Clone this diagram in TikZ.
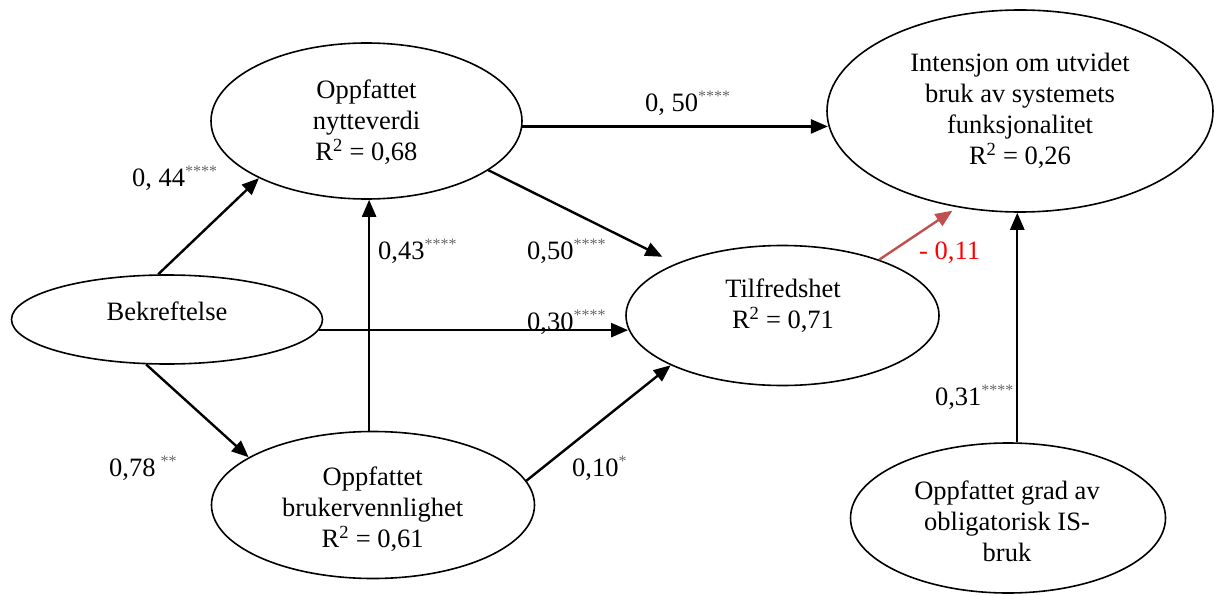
\documentclass[tikz,border=0pt]{standalone}
\usepackage{fontspec}
\setmainfont{Liberation Serif}
\usetikzlibrary{shapes.geometric,arrows.meta}
\definecolor{starc}{HTML}{666666}
\definecolor{redarr}{HTML}{C0504D}
\definecolor{redtxt}{HTML}{FF0000}
\newcommand\stars[1]{\raisebox{10pt}{\fontsize{16}{16}\selectfont\color{starc}#1}}
\newcommand\rsq{R\textsuperscript{2}}
\begin{document}
\begin{tikzpicture}[x=1pt,y=-1pt,
  ell/.style={draw, ellipse, line width=1.6pt, inner sep=0pt},
  txt/.style={align=center, font=\fontsize{26.5}{31}\selectfont, inner sep=0pt},
  lbl/.style={anchor=base west, font=\fontsize{26.5}{31}\selectfont, inner sep=0pt},
  arr/.style={line width=2.4pt, -{Triangle[length=17pt,width=14pt]}},
]
\useasboundingbox (0,0) rectangle (1214,596);

% ellipses
\node[ell, minimum width=311pt, minimum height=89pt]  (bek)  at (167,319.5) {};
\node[ell, minimum width=311pt, minimum height=156pt] (nv)   at (366.5,121) {};
\node[ell, minimum width=323pt, minimum height=147pt] (bru)  at (373,505) {};
\node[ell, minimum width=313pt, minimum height=140pt] (tilf) at (782.5,315.5) {};
\node[ell, minimum width=386pt, minimum height=202pt] (int)  at (1020,111) {};
\node[ell, minimum width=315pt, minimum height=150pt] (grad) at (1008,518) {};

% texts
\node[txt] (tbek)  at (167,311) {Bekreftelse};
\node[txt] (tnv)   at (366.5,122) {Oppfattet\\nytteverdi\\\rsq{} = 0,68};
\node[txt] (tbru)  at (372.7,509.5) {Oppfattet\\brukervennlighet\\\rsq{} = 0,61};
\node[txt] (ttilf) at (783,306) {Tilfredshet\\\rsq{} = 0,71};
\node[txt] (tint)  at (1020,110.5) {Intensjon om utvidet\\bruk av systemets\\funksjonalitet\\\rsq{} = 0,26};
\node[txt] (tgrad) at (1007,521.5) {Oppfattet grad av\\obligatorisk IS-\\bruk};

% connectors
\draw[arr] (bek.101) -- (nv.208);
\draw[arr] (bek.245.5) -- (bru.159.4);
\draw[arr] (bek.-4.38) -- (tilf.185.8 |- bek.-4.38);
\draw[arr] (bru.93.5) -- (bru.93.5 |- nv.-88.5);
\draw[arr] (nv.-2.1) -- (int.184.7 |- nv.-2.1);
\draw[arr, shorten >=15pt] (nv.-22.2) -- (tilf.154.6);
\draw[arr] (bru.9.3) -- (tilf.204.6);
\draw[arr, draw=redarr, -{Triangle[length=17pt,width=14pt,fill=redarr]}, shorten >=6pt] (tilf.30.3) -- (int.237);
\draw[arr] (grad.83.8) -- (grad.83.8 |- int.267.85);

% labels
\node[lbl] (l1) at (132,186) {0, 44\stars{****}};
\node[lbl] (l2) at (378,259) {0,43\stars{****}};
\node[lbl] (l3) at (527,259) {0,50\stars{****}};
\node[lbl] (l4) at (645,112) {0, 50\stars{****}};
\node[lbl] (l5) at (527,330) {0,30\stars{****}};
\node[lbl] (l6) at (109,476.5) {0,78\hspace{5pt}\stars{**}};
\node[lbl] (l7) at (572,476) {0,10\stars{*}};
\node[lbl, text=redtxt] (l8) at (919,259) {- 0,11};
\node[lbl] (l9) at (934.8,405) {0,31\stars{****}};
\end{tikzpicture}
\end{document}
